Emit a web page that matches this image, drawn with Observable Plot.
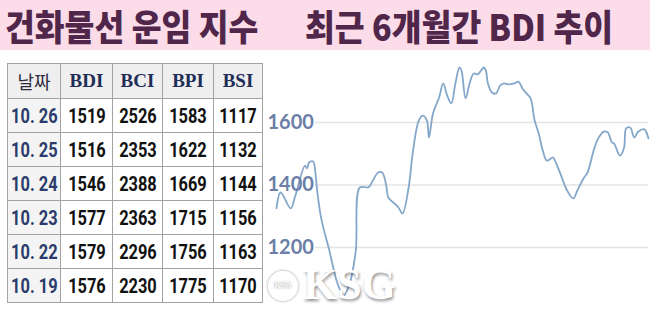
<!DOCTYPE html>
<html><head><meta charset="utf-8">
<script src="https://cdn.jsdelivr.net/npm/d3@7"></script>
<script src="https://cdn.jsdelivr.net/npm/@observablehq/plot@0.6"></script>
<style>
html,body{margin:0;padding:0;background:#fff;}
#page{position:relative;width:650px;height:309px;overflow:hidden;background:#fff;}
#head{position:absolute;left:0;top:0;width:650px;height:50px;background:#fbdce8;}
.ttl{position:absolute;top:0;height:50px;line-height:50px;font-family:"Noto Sans CJK KR";font-weight:900;font-size:36px;color:#50264a;white-space:nowrap;transform-origin:left center;transform:scaleX(0.9);}
#tbl{position:absolute;left:7px;top:63px;border-collapse:collapse;table-layout:fixed;width:256px;}
#tbl td,#tbl th{border:1px solid #a3a3a3;padding:0;text-align:center;height:33px;white-space:nowrap;overflow:visible;line-height:20px;}
#tbl th{height:34px;background:#efefef;font-family:"Liberation Serif";font-weight:700;font-size:19px;color:#1f2d58;}
#tbl th.k{font-family:"Noto Sans CJK KR";font-weight:400;font-size:18px;color:#2c2c3c;}
#tbl td.d{background:#f4f4f4;color:#2b3c6c;}
#tbl td{font-family:Roboto;font-weight:700;font-size:20px;color:#111;}
.n{display:inline-block;transform:scaleX(0.82);margin:0 -8px;}
#chart{position:absolute;left:262px;top:55px;}
#wm{position:absolute;left:303px;top:263px;height:44px;line-height:44px;font-family:"Liberation Serif";font-weight:700;font-size:44px;color:#fff;text-shadow:1px 2px 3px rgba(0,0,0,0.45);}
#logo{position:absolute;left:268px;top:271px;width:26px;height:26px;border-radius:50%;border:2px solid #fff;box-shadow:0 0 3px rgba(0,0,0,0.45);font-family:"Liberation Serif";font-size:8px;font-weight:700;color:#fff;text-align:center;line-height:26px;text-shadow:0 0 2px rgba(0,0,0,0.5);}
</style></head>
<body><div id="page">
<div id="head"><span class="ttl" id="t1" style="left:5px"></span><span class="ttl" id="t2" style="left:305px"></span></div>
<table id="tbl"></table>
<div id="chart"></div>
<div id="logo">KSG</div>
<div id="wm">KSG</div>
</div>
<script>
const titleLeft = "건화물선 운임 지수";
const titleRight = "최근 6개월간 BDI 추이";
const columns = ["날짜","BDI","BCI","BPI","BSI"];
const tableDates = ["10. 26","10. 25","10. 24","10. 23","10. 22","10. 19"];
const bdiT = [1519,1516,1546,1577,1579,1576];
const bciT = [2526,2353,2388,2363,2296,2230];
const bpiT = [1583,1622,1669,1715,1756,1775];
const bsiT = [1117,1132,1144,1156,1163,1170];
const yTicks = [1200,1400,1600];
const lineDates = ["2018-04-26","2018-04-28","2018-05-03","2018-05-05","2018-05-10","2018-05-11","2018-05-12","2018-05-14","2018-05-15","2018-05-16","2018-05-18","2018-05-22","2018-05-26","2018-05-29","2018-06-01","2018-06-04","2018-06-06","2018-06-10","2018-06-11","2018-06-15","2018-06-17","2018-06-19","2018-06-20","2018-06-23","2018-06-25","2018-06-27","2018-06-30","2018-07-02","2018-07-05","2018-07-07","2018-07-09","2018-07-10","2018-07-12","2018-07-15","2018-07-17","2018-07-19","2018-07-21","2018-07-23","2018-07-25","2018-07-26","2018-07-28","2018-07-30","2018-08-01","2018-08-03","2018-08-06","2018-08-07","2018-08-08","2018-08-10","2018-08-12","2018-08-14","2018-08-16","2018-08-18","2018-08-21","2018-08-23","2018-08-25","2018-08-27","2018-08-29","2018-08-31","2018-09-02","2018-09-04","2018-09-06","2018-09-09","2018-09-10","2018-09-13","2018-09-16","2018-09-19","2018-09-21","2018-09-24","2018-09-26","2018-09-29","2018-10-01","2018-10-04","2018-10-06","2018-10-08","2018-10-09","2018-10-12","2018-10-14","2018-10-15","2018-10-17","2018-10-19","2018-10-21","2018-10-24","2018-10-25","2018-10-26"];
const lineBDI = [1325,1376,1325,1360,1462,1453,1472,1475,1446,1382,1293,1190,1085,1046,1085,1190,1392,1392,1398,1440,1440,1398,1360,1341,1328,1309,1392,1501,1606,1622,1606,1552,1629,1680,1725,1686,1661,1725,1776,1766,1677,1725,1757,1754,1776,1766,1725,1696,1693,1718,1725,1722,1725,1731,1709,1693,1677,1606,1565,1510,1478,1488,1478,1430,1382,1357,1382,1421,1440,1510,1546,1571,1568,1536,1533,1494,1520,1581,1584,1552,1571,1578,1568,1549];

document.getElementById("t1").textContent = titleLeft;
document.getElementById("t2").textContent = titleRight;

// table
const colW = [53,52,50,51,49];
const tbl = document.getElementById("tbl");
const cg = document.createElement("colgroup");
colW.forEach(w => { const c = document.createElement("col"); c.style.width = w + "px"; cg.appendChild(c); });
tbl.appendChild(cg);
const hr = document.createElement("tr");
columns.forEach((c, i) => { const th = document.createElement("th"); th.textContent = c; if (i === 0) th.className = "k"; hr.appendChild(th); });
tbl.appendChild(hr);
tableDates.forEach((d, i) => {
  const tr = document.createElement("tr");
  [d, bdiT[i], bciT[i], bpiT[i], bsiT[i]].forEach((v, j) => {
    const td = document.createElement("td");
    if (j === 0) td.className = "d";
    const s = document.createElement("span"); s.className = "n"; s.textContent = String(v);
    td.appendChild(s); tr.appendChild(td);
  });
  tbl.appendChild(tr);
});

const series = lineDates.map((d, i) => ({date: new Date(d), value: lineBDI[i]}));
const chart = Plot.plot({
  width: 388, height: 254, margin: 0,
  x: {type: "utc", domain: [new Date("2018-04-26"), new Date("2018-10-26")], range: [14, 386], axis: null},
  y: {domain: [1200, 1600], range: [192, 67], axis: null},
  style: {background: "transparent", overflow: "visible"},
  marks: [
    Plot.ruleY(yTicks, {stroke: "#e4e4e4", strokeWidth: 1.3, insetLeft: 53, insetRight: 2}),
    Plot.line(series, {x: "date", y: "value", stroke: "#84a7ca", strokeWidth: 1.8, curve: "catmull-rom"}),
    Plot.text(yTicks, {y: d => d, frameAnchor: "left", textAnchor: "start", dx: 5, text: d => String(d), fill: "#6b7fa8", fontSize: 20, fontWeight: 700, fontFamily: "Lato"})
  ]
});
document.getElementById("chart").appendChild(chart);
</script>
</body></html>
